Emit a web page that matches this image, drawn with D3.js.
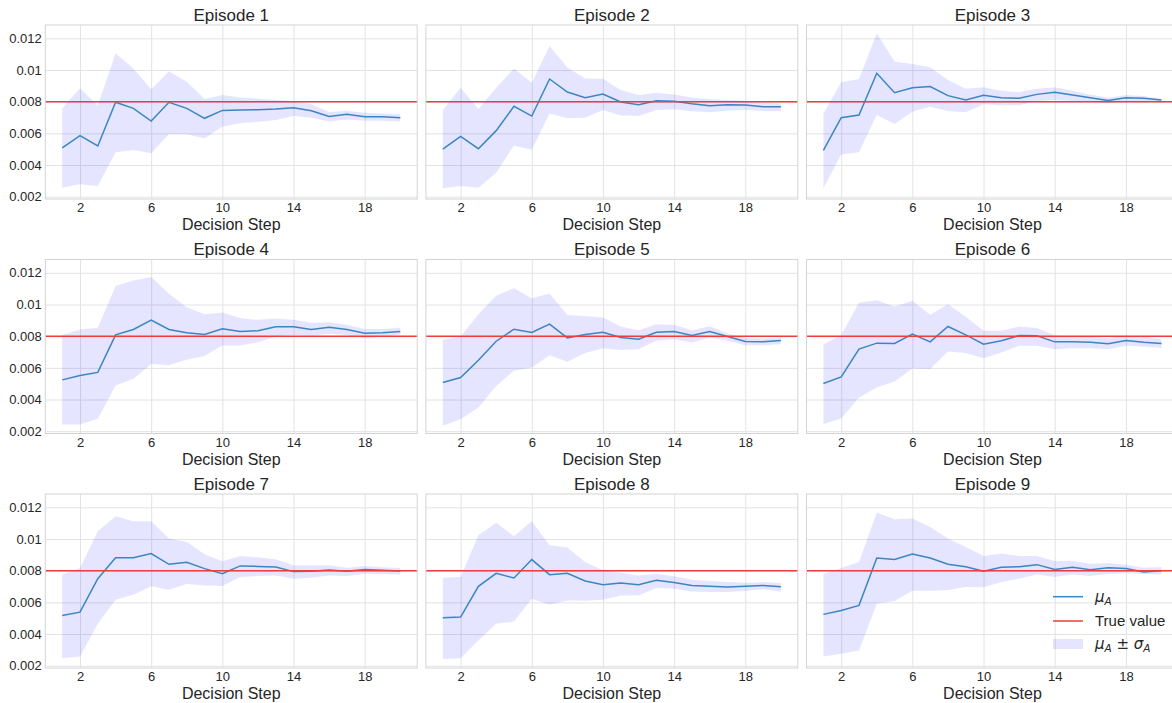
<!DOCTYPE html>
<html><head><meta charset="utf-8">
<script src="https://cdn.jsdelivr.net/npm/d3@7"></script>
<style>
body{margin:0;background:#fff;}
svg{display:block;font-family:"Liberation Sans",Arial,sans-serif;}
</style>
</head><body>
<svg id="chart" width="1172" height="703"></svg>
<script>
const steps = [1,2,3,4,5,6,7,8,9,10,11,12,13,14,15,16,17,18,19,20];
const trueValue = 0.008;
const xTicks = [2,6,10,14,18];
const yTicks = [0.002,0.004,0.006,0.008,0.010,0.012];
const yTickLabels = ["0.002","0.004","0.006","0.008","0.01","0.012"];
const episodeTitles = ["Episode 1","Episode 2","Episode 3","Episode 4","Episode 5","Episode 6","Episode 7","Episode 8","Episode 9"];
const xLabel = "Decision Step";

const ep1Mean  = [0.00509,0.00585,0.00520,0.00796,0.00758,0.00678,0.00796,0.00758,0.00695,0.00745,0.00747,0.00749,0.00754,0.00762,0.00743,0.00707,0.00720,0.00705,0.00705,0.00699];
const ep1Upper = [0.00758,0.00884,0.00775,0.01105,0.01010,0.00878,0.00992,0.00926,0.00817,0.00842,0.00827,0.00819,0.00810,0.00804,0.00783,0.00735,0.00743,0.00730,0.00726,0.00720];
const ep1Lower = [0.00257,0.00278,0.00267,0.00480,0.00495,0.00474,0.00594,0.00594,0.00568,0.00642,0.00663,0.00672,0.00684,0.00709,0.00699,0.00674,0.00688,0.00680,0.00680,0.00674];

const ep2Mean  = [0.00501,0.00581,0.00503,0.00617,0.00771,0.00709,0.00943,0.00861,0.00825,0.00848,0.00798,0.00781,0.00806,0.00802,0.00787,0.00775,0.00781,0.00779,0.00768,0.00768];
const ep2Upper = [0.00747,0.00888,0.00754,0.00888,0.01010,0.00920,0.01152,0.01015,0.00947,0.00945,0.00874,0.00842,0.00857,0.00846,0.00827,0.00815,0.00810,0.00806,0.00794,0.00789];
const ep2Lower = [0.00253,0.00267,0.00257,0.00352,0.00524,0.00497,0.00726,0.00695,0.00699,0.00747,0.00712,0.00709,0.00747,0.00752,0.00739,0.00733,0.00743,0.00747,0.00741,0.00741];

const ep3Mean  = [0.00493,0.00699,0.00716,0.00979,0.00857,0.00888,0.00895,0.00838,0.00810,0.00840,0.00825,0.00821,0.00846,0.00859,0.00842,0.00825,0.00808,0.00825,0.00821,0.00810];
const ep3Upper = [0.00726,0.00922,0.00943,0.01232,0.01053,0.01038,0.01017,0.00937,0.00882,0.00891,0.00869,0.00861,0.00882,0.00891,0.00869,0.00846,0.00825,0.00842,0.00836,0.00819];
const ep3Lower = [0.00253,0.00467,0.00480,0.00716,0.00659,0.00737,0.00768,0.00741,0.00733,0.00783,0.00777,0.00777,0.00804,0.00810,0.00804,0.00800,0.00789,0.00804,0.00804,0.00796];

const ep4Mean  = [0.00524,0.00552,0.00571,0.00808,0.00842,0.00901,0.00842,0.00821,0.00811,0.00846,0.00829,0.00834,0.00859,0.00859,0.00842,0.00857,0.00842,0.00819,0.00821,0.00829];
const ep4Upper = [0.00808,0.00842,0.00853,0.01116,0.01152,0.01173,0.01067,0.00983,0.00939,0.00949,0.00914,0.00903,0.00912,0.00903,0.00884,0.00888,0.00872,0.00846,0.00846,0.00853];
const ep4Lower = [0.00242,0.00242,0.00278,0.00488,0.00531,0.00625,0.00617,0.00651,0.00674,0.00741,0.00741,0.00762,0.00798,0.00808,0.00804,0.00813,0.00808,0.00787,0.00796,0.00811];

const ep5Mean  = [0.00507,0.00539,0.00648,0.00768,0.00844,0.00823,0.00876,0.00789,0.00811,0.00825,0.00792,0.00781,0.00825,0.00829,0.00804,0.00829,0.00798,0.00766,0.00764,0.00773];
const ep5Upper = [0.00775,0.00798,0.00939,0.01055,0.01103,0.01040,0.01069,0.00933,0.00928,0.00918,0.00861,0.00838,0.00876,0.00872,0.00838,0.00863,0.00817,0.00789,0.00785,0.00792];
const ep5Lower = [0.00234,0.00276,0.00349,0.00486,0.00581,0.00602,0.00680,0.00638,0.00693,0.00724,0.00712,0.00718,0.00771,0.00781,0.00760,0.00792,0.00771,0.00743,0.00743,0.00749];

const ep6Mean  = [0.00501,0.00543,0.00718,0.00756,0.00754,0.00813,0.00764,0.00861,0.00808,0.00749,0.00771,0.00804,0.00802,0.00764,0.00764,0.00762,0.00752,0.00773,0.00762,0.00754];
const ep6Upper = [0.00749,0.00806,0.01013,0.01027,0.00987,0.01023,0.00935,0.01002,0.00922,0.00834,0.00834,0.00861,0.00851,0.00806,0.00796,0.00796,0.00785,0.00806,0.00796,0.00781];
const ep6Lower = [0.00244,0.00280,0.00413,0.00476,0.00514,0.00596,0.00592,0.00703,0.00693,0.00661,0.00697,0.00739,0.00739,0.00718,0.00724,0.00724,0.00718,0.00739,0.00733,0.00726];

const ep7Mean  = [0.00517,0.00538,0.00749,0.00882,0.00882,0.00908,0.00840,0.00853,0.00813,0.00781,0.00830,0.00827,0.00823,0.00794,0.00796,0.00804,0.00796,0.00808,0.00802,0.00798];
const ep7Upper = [0.00775,0.00817,0.01049,0.01144,0.01112,0.01112,0.01003,0.00981,0.00903,0.00859,0.00893,0.00884,0.00872,0.00834,0.00834,0.00834,0.00819,0.00830,0.00821,0.00817];
const ep7Lower = [0.00247,0.00258,0.00465,0.00616,0.00648,0.00701,0.00680,0.00716,0.00707,0.00703,0.00760,0.00766,0.00770,0.00749,0.00756,0.00770,0.00766,0.00781,0.00777,0.00775];

const ep8Mean  = [0.00503,0.00507,0.00701,0.00783,0.00754,0.00870,0.00775,0.00783,0.00735,0.00711,0.00722,0.00711,0.00739,0.00726,0.00707,0.00701,0.00697,0.00701,0.00707,0.00699];
const ep8Upper = [0.00756,0.00760,0.01024,0.01102,0.01017,0.01112,0.00960,0.00946,0.00855,0.00802,0.00787,0.00770,0.00781,0.00764,0.00743,0.00735,0.00728,0.00724,0.00728,0.00722];
const ep8Lower = [0.00243,0.00247,0.00359,0.00465,0.00479,0.00623,0.00585,0.00612,0.00610,0.00616,0.00644,0.00644,0.00690,0.00686,0.00669,0.00665,0.00665,0.00671,0.00682,0.00669];

const ep9Mean  = [0.00524,0.00549,0.00581,0.00880,0.00870,0.00905,0.00880,0.00840,0.00825,0.00796,0.00821,0.00825,0.00838,0.00808,0.00821,0.00806,0.00819,0.00813,0.00792,0.00800];
const ep9Upper = [0.00781,0.00817,0.00855,0.01167,0.01125,0.01129,0.01076,0.01003,0.00950,0.00893,0.00908,0.00893,0.00893,0.00861,0.00861,0.00844,0.00849,0.00838,0.00819,0.00823];
const ep9Lower = [0.00258,0.00275,0.00296,0.00591,0.00608,0.00673,0.00673,0.00678,0.00697,0.00695,0.00728,0.00749,0.00775,0.00760,0.00775,0.00766,0.00779,0.00783,0.00779,0.00775];

const episodes = [
  {mean: ep1Mean, upper: ep1Upper, lower: ep1Lower},
  {mean: ep2Mean, upper: ep2Upper, lower: ep2Lower},
  {mean: ep3Mean, upper: ep3Upper, lower: ep3Lower},
  {mean: ep4Mean, upper: ep4Upper, lower: ep4Lower},
  {mean: ep5Mean, upper: ep5Upper, lower: ep5Lower},
  {mean: ep6Mean, upper: ep6Upper, lower: ep6Lower},
  {mean: ep7Mean, upper: ep7Upper, lower: ep7Lower},
  {mean: ep8Mean, upper: ep8Upper, lower: ep8Lower},
  {mean: ep9Mean, upper: ep9Upper, lower: ep9Lower}
].map((e, i) => Object.assign(e, {title: episodeTitles[i]}));

// layout
const colLefts = [45.3, 425.9, 806.5];
const rowTops = [25, 259.5, 494];
const pw = 371.9, ph = 174;
const textColor = "#262626";
const gridColor = "#e3e3e3";
const spineColor = "#d4d4d4";
const lineColor = "#3a86c2";
const trueColor = "#f03c3c";
const bandColor = "rgba(0,0,255,0.1)";

const svg = d3.select("#chart");
svg.append("rect").attr("width", 1172).attr("height", 703).attr("fill", "#fff");

const x = d3.scaleLinear().domain([0.05, 20.95]).range([0, pw]);
const y = d3.scaleLinear().domain([0.001855, 0.01284]).range([ph, 0]);

const area = d3.area().x((d, i) => x(steps[i])).y0(d => y(d[0])).y1(d => y(d[1]));
const line = d3.line().x((d, i) => x(steps[i])).y(d => y(d));

episodes.forEach((ep, idx) => {
  const col = idx % 3, row = Math.floor(idx / 3);
  const g = svg.append("g").attr("transform", `translate(${colLefts[col]},${rowTops[row]})`);

  const gx = g.append("g").attr("transform", `translate(0,${ph})`)
    .call(d3.axisBottom(x).tickValues(xTicks).tickSize(-ph).tickPadding(4.2).tickFormat(d3.format("d")));
  const gy = g.append("g")
    .call(d3.axisLeft(y).tickValues(yTicks).tickSize(-pw).tickPadding(3.6)
      .tickFormat((d, i) => yTickLabels[i]));
  [gx, gy].forEach(a => {
    a.select(".domain").remove();
    a.selectAll(".tick line").attr("stroke", gridColor).attr("stroke-width", 1);
    a.selectAll(".tick text").attr("fill", textColor).attr("font-size", 13)
      .attr("font-family", '"Liberation Sans",Arial,sans-serif');
  });
  if (col !== 0) gy.selectAll(".tick text").remove();

  const bandData = ep.lower.map((lo, i) => [lo, ep.upper[i]]);
  g.append("path").datum(bandData).attr("d", area).attr("fill", bandColor).attr("stroke", "none");

  g.append("path").datum(ep.mean).attr("d", line)
    .attr("fill", "none").attr("stroke", lineColor).attr("stroke-width", 1.5);

  g.append("line").attr("x1", 0).attr("x2", pw).attr("y1", y(trueValue)).attr("y2", y(trueValue))
    .attr("stroke", trueColor).attr("stroke-width", 1.5);

  g.append("rect").attr("width", pw).attr("height", ph).attr("fill", "none")
    .attr("stroke", spineColor).attr("stroke-width", 1);

  g.append("text").attr("x", pw / 2).attr("y", -4.3).attr("text-anchor", "middle")
    .attr("fill", textColor).attr("font-size", 17).text(ep.title);

  g.append("text").attr("x", pw / 2).attr("y", ph + 31).attr("text-anchor", "middle")
    .attr("fill", textColor).attr("font-size", 16).text(xLabel);

  if (idx === 8) {
    const lg = svg.append("g").attr("transform", "translate(1053,0)");
    const ys = [596.7, 621, 644];
    lg.append("line").attr("x1", 0).attr("x2", 30).attr("y1", ys[0]).attr("y2", ys[0])
      .attr("stroke", lineColor).attr("stroke-width", 1.5);
    lg.append("line").attr("x1", 0).attr("x2", 30).attr("y1", ys[1]).attr("y2", ys[1])
      .attr("stroke", trueColor).attr("stroke-width", 1.5);
    lg.append("rect").attr("x", 0).attr("y", ys[2] - 5).attr("width", 30).attr("height", 10)
      .attr("fill", bandColor);

    const t1 = lg.append("text").attr("x", 42).attr("y", ys[0]).attr("dy", "0.35em")
      .attr("fill", textColor).attr("font-size", 15);
    t1.append("tspan").attr("font-family", '"DejaVu Sans",sans-serif').attr("font-style", "italic").text("μ");
    t1.append("tspan").attr("font-family", '"DejaVu Sans",sans-serif').attr("font-style", "italic")
      .attr("font-size", 10.5).attr("dy", 3).text("A");

    lg.append("text").attr("x", 42).attr("y", ys[1]).attr("dy", "0.35em")
      .attr("fill", textColor).attr("font-size", 15).text("True value");

    const t3 = lg.append("text").attr("x", 42).attr("y", ys[2]).attr("dy", "0.35em")
      .attr("fill", textColor).attr("font-size", 15).attr("font-family", '"DejaVu Sans",sans-serif');
    t3.append("tspan").attr("font-style", "italic").text("μ");
    t3.append("tspan").attr("font-style", "italic").attr("font-size", 10.5).attr("dy", 3).text("A");
    t3.append("tspan").attr("dy", -3).text(" ± ");
    t3.append("tspan").attr("font-style", "italic").text("σ");
    t3.append("tspan").attr("font-style", "italic").attr("font-size", 10.5).attr("dy", 3).text("A");
  }
});
</script>
</body></html>
